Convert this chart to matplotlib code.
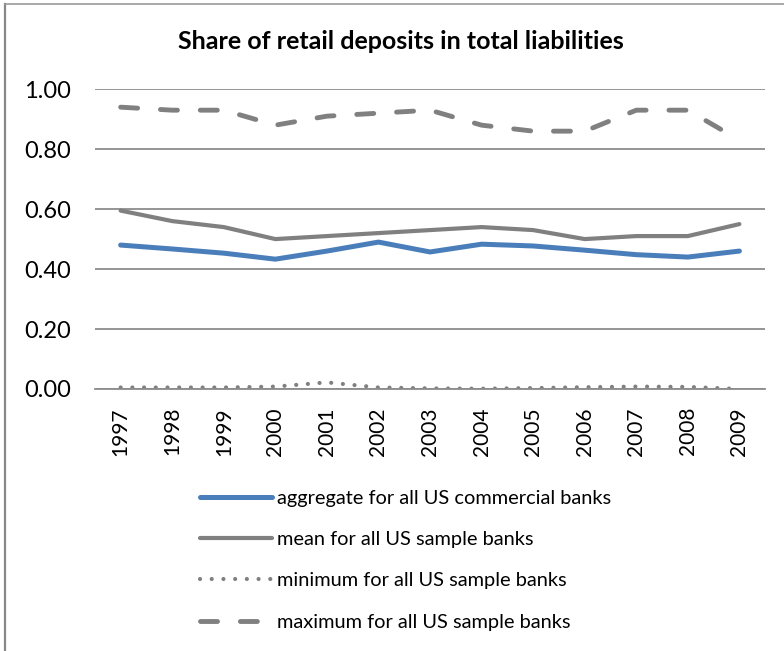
import matplotlib
matplotlib.use("Agg")
import matplotlib.pyplot as plt
from matplotlib.lines import Line2D

years = ["1997", "1998", "1999", "2000", "2001", "2002", "2003", "2004", "2005", "2006", "2007", "2008", "2009"]
aggregate = [0.48, 0.467, 0.453, 0.433, 0.46, 0.49, 0.457, 0.483, 0.477, 0.463, 0.448, 0.44, 0.46]
mean_vals = [0.595, 0.56, 0.54, 0.50, 0.51, 0.52, 0.53, 0.54, 0.53, 0.50, 0.51, 0.51, 0.55]
min_vals = [0.005, 0.005, 0.005, 0.008, 0.022, 0.005, 0.002, 0.001, 0.003, 0.006, 0.008, 0.007, 0.0]
max_vals = [0.94, 0.93, 0.93, 0.88, 0.91, 0.92, 0.93, 0.88, 0.86, 0.86, 0.93, 0.93, 0.83]
yticks = [0.0, 0.2, 0.4, 0.6, 0.8, 1.0]

plt.rcParams['font.family'] = ['Lato', 'DejaVu Sans']

fig = plt.figure(figsize=(7.84, 6.51), dpi=100)
ax = fig.add_axes([0.121, 0.4025, 0.855, 0.4605])

x = list(range(len(years)))
gray = '#808080'
l1, = ax.plot(x, aggregate, color='#4a7ebb', lw=3.6, solid_capstyle='round', solid_joinstyle='round',
              label='aggregate for all US commercial banks')
l2, = ax.plot(x, mean_vals, color=gray, lw=3.0, solid_capstyle='round', solid_joinstyle='round',
              label='mean for all US sample banks')
l3, = ax.plot(x, min_vals, color=gray, lw=3.0, linestyle=(0, (0.01, 2.8)), dash_capstyle='round',
              label='minimum for all US sample banks')
l4, = ax.plot(x, max_vals, color=gray, lw=3.5, linestyle=(0, (3.5, 4.7)), dash_capstyle='round',
              label='maximum for all US sample banks')

ax.set_xlim(-0.5, len(years) - 0.5)
ax.set_ylim(0, 1.0)
ax.set_yticks(yticks)
ax.set_yticklabels([f"{v:.2f}" for v in yticks], fontsize=17)
ax.set_xticks(x)
ax.set_xticklabels(years, rotation=90, fontsize=15)
ax.tick_params(axis='y', length=0, pad=17)
ax.tick_params(axis='x', length=0, pad=13)
ax.grid(axis='y', color='#8c8c8c', lw=1.3)
ax.set_axisbelow(True)
for s in ['top', 'right', 'left']:
    ax.spines[s].set_visible(False)
ax.spines['bottom'].set_color('#8c8c8c')
ax.spines['bottom'].set_linewidth(1.3)

fig.text(0.511, 0.937, "Share of retail deposits in total liabilities", ha='center', va='center',
         fontsize=18, fontweight='bold')

leg = fig.legend(handles=[l1, l2, l3, l4], loc='upper left', bbox_to_anchor=(0.245, 0.2595),
                 frameon=False, fontsize=14.4, handlelength=3.6, handletextpad=0.25, labelspacing=1.21,
                 borderaxespad=0)

# outer frame (left and top)
fig.add_artist(Line2D([0.0065, 0.0065], [0, 0.994], transform=fig.transFigure, color='#888888', lw=1.6))
fig.add_artist(Line2D([0.0065, 1.0], [0.994, 0.994], transform=fig.transFigure, color='#999999', lw=1.2))

fig.savefig("out.png", dpi=100)
